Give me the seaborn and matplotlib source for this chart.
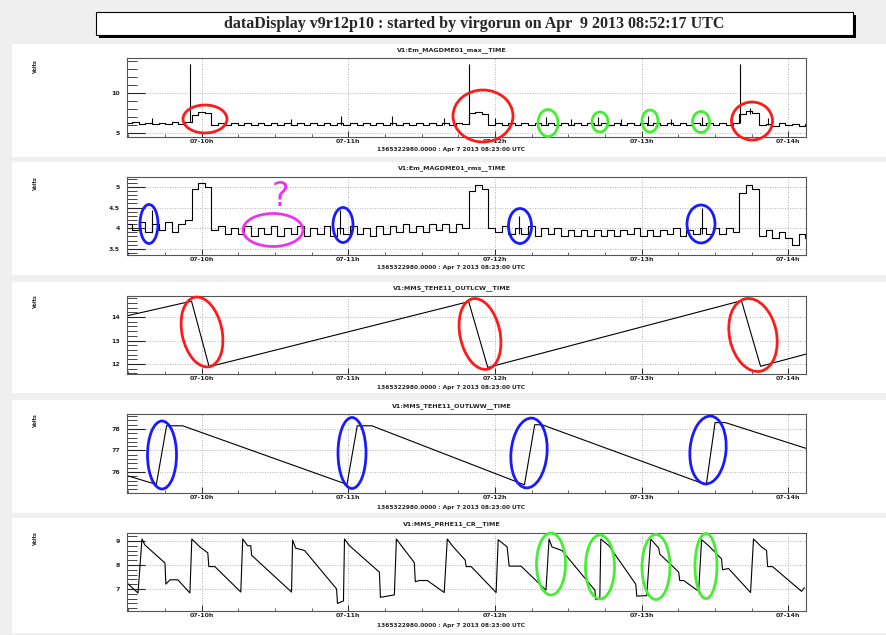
import numpy as np
import pandas as pd
import matplotlib
matplotlib.use("Agg")
import matplotlib.pyplot as plt
import seaborn as sns
from matplotlib.patches import Ellipse, Rectangle
from matplotlib.ticker import MultipleLocator, FixedLocator

# ---------------- data ----------------
main_title = "dataDisplay v9r12p10 : started by virgorun on Apr  9 2013 08:52:17 UTC"
panel_titles = ["V1:Em_MAGDME01_max__TIME", "V1:Em_MAGDME01_rms__TIME",
                "V1:MMS_TEHE11_OUTLCW__TIME", "V1:MMS_TEHE11_OUTLWW__TIME",
                "V1:MMS_PRHE11_CR__TIME"]
time_label = "1365322980.0000 : Apr 7 2013 08:23:00 UTC"
unit_label = "Volts"
hour_ticks = [10, 11, 12, 13, 14]
hour_labels = ["07-10h", "07-11h", "07-12h", "07-13h", "07-14h"]

# panel 1 & 2 : stepped series sampled every 0.045 h from 9.48 h
step_t0 = 9.48
step_dt = 0.045
p1_v = [6.20, 6.35, 6.15, 6.30, 6.10, 6.30, 6.15, 6.35, 6.10, 6.40,
        7.30, 7.65, 7.45, 6.05, 6.25, 6.00, 6.20, 5.95, 6.25, 6.05,
        6.20, 5.95, 6.30, 6.00, 6.20, 6.05, 6.25, 5.95, 6.20, 6.00,
        6.30, 6.05, 6.20, 5.95, 6.25, 6.00, 6.20, 6.05, 6.30, 5.95,
        6.20, 6.00, 6.25, 6.05, 6.20, 5.95, 6.30, 6.00, 6.20, 6.05,
        6.25, 6.10, 7.45, 7.60, 7.40, 6.00, 6.25, 5.95, 6.20, 6.05,
        6.25, 5.95, 6.20, 6.00, 6.30, 6.05, 6.20, 5.95, 6.25, 6.00,
        6.20, 6.05, 6.30, 5.95, 6.20, 6.00, 6.25, 6.05, 6.20, 5.95,
        6.30, 6.00, 6.20, 6.05, 6.25, 5.95, 6.20, 6.00, 6.30, 6.05,
        6.20, 5.95, 6.30, 7.35, 7.70, 7.50, 5.95, 6.15, 5.90, 6.20,
        5.95, 6.15, 5.90, 6.10, 6.15]
p1_spike_t = [9.92, 11.82, 13.67, 9.66, 10.61, 10.95, 11.30, 11.65, 12.00, 12.35,
              12.52, 12.70, 12.86, 13.04, 13.20, 13.41, 13.74, 13.86]
p1_spike_base = [6.4, 6.1, 6.2, 6.1, 6.0, 6.0, 6.0, 6.0, 6.0, 6.0,
                 6.0, 6.0, 6.0, 6.0, 6.0, 6.0, 7.4, 6.0]
p1_spike_top = [13.6, 13.6, 13.6, 6.9, 6.8, 7.1, 7.15, 6.9, 6.9, 7.0,
                6.8, 7.0, 6.7, 7.1, 6.8, 7.0, 8.1, 6.9]

p2_v = [4.10, 3.95, 4.15, 3.90, 4.10, 3.95, 4.15, 3.90, 4.10, 4.20,
        4.95, 5.10, 5.00, 3.95, 4.05, 3.85, 4.00, 3.85, 4.05, 3.80,
        4.00, 3.85, 4.05, 3.80, 4.00, 3.85, 4.05, 3.80, 4.00, 3.85,
        4.05, 3.80, 4.00, 3.85, 4.05, 3.85, 4.00, 3.80, 4.05, 3.85,
        4.05, 3.90, 4.10, 3.90, 4.05, 3.90, 4.10, 3.95, 4.10, 3.90,
        4.10, 4.00, 4.90, 5.05, 4.95, 4.00, 3.90, 4.05, 3.85, 4.00,
        3.85, 4.05, 3.80, 4.00, 3.85, 4.00, 3.80, 3.95, 3.80, 3.95,
        3.80, 3.95, 3.80, 3.95, 3.80, 3.95, 3.85, 4.00, 3.80, 3.95,
        3.80, 3.95, 3.85, 4.00, 3.80, 3.95, 3.85, 4.00, 3.85, 4.00,
        3.85, 4.00, 3.90, 4.85, 5.05, 4.95, 3.80, 3.95, 3.75, 3.90,
        3.75, 3.60, 3.85, 3.75, 3.90]
p2_spike_t = [9.66, 10.94, 12.16, 13.41]
p2_spike_base = [3.90, 3.85, 3.85, 3.85]
p2_spike_top = [4.44, 4.45, 4.30, 4.50]

p3_t = [9.48, 9.93, 10.05, 11.82, 11.95, 13.68, 13.81, 14.12]
p3_v = [14.04, 14.68, 11.88, 14.66, 11.85, 14.70, 11.90, 12.42]

p4_t = [9.48, 9.69, 9.76, 9.87, 10.99, 11.06, 11.16, 12.20, 12.27, 12.32,
        13.44, 13.50, 13.57, 14.12]
p4_v = [75.85, 75.42, 78.15, 78.15, 75.42, 78.15, 78.15, 75.40, 78.20, 78.20,
        75.40, 78.30, 78.30, 77.10]

p5_t = [9.490, 9.565, 9.592, 9.612, 9.749, 9.755, 9.783, 9.837, 9.919, 9.932,
        9.987, 10.041, 10.048, 10.089, 10.266, 10.279, 10.313, 10.334, 10.340, 10.612,
        10.619, 10.640, 10.701, 10.919, 10.925, 10.966, 10.973, 11.007, 11.211, 11.218,
        11.313, 11.327, 11.361, 11.449, 11.456, 11.483, 11.538, 11.653, 11.674, 11.708,
        11.796, 11.803, 11.837, 12.007, 12.021, 12.082, 12.096, 12.177, 12.347, 12.368,
        12.388, 12.456, 12.680, 12.687, 12.714, 12.721, 12.776, 12.959, 12.966, 13.034,
        13.061, 13.116, 13.123, 13.252, 13.259, 13.286, 13.388, 13.408, 13.456, 13.544,
        13.551, 13.592, 13.742, 13.762, 13.817, 13.851, 13.858, 13.892, 14.089, 14.109]
p5_v = [7.25, 6.83, 9.08, 8.83, 8.08, 7.20, 7.38, 7.38, 6.83, 9.08,
        8.75, 8.50, 7.93, 7.93, 6.87, 9.08, 8.80, 8.80, 8.40, 6.87,
        9.04, 8.70, 8.60, 7.00, 6.40, 6.50, 9.08, 8.80, 7.70, 6.65,
        6.75, 9.08, 8.80, 8.10, 7.30, 7.35, 7.35, 6.85, 9.08, 8.80,
        8.20, 7.93, 7.93, 6.85, 9.05, 8.75, 7.95, 7.95, 6.95, 9.08,
        8.75, 8.60, 6.95, 6.55, 6.60, 9.08, 8.80, 7.20, 6.70, 6.72,
        9.08, 8.70, 8.45, 7.70, 7.35, 7.35, 6.90, 9.05, 8.80, 8.25,
        7.80, 7.85, 6.85, 9.08, 8.75, 8.60, 7.93, 7.93, 6.90, 7.05]

# y axis settings per panel
y_limits = [(4.5, 14.4), (3.35, 5.24), (11.57, 14.9), (75.02, 78.7), (6.08, 9.33)]
y_major = [[5, 10], [3.5, 4, 4.5, 5], [12, 13, 14], [76, 77, 78], [7, 8, 9]]
y_major_labels = [["5", "10"], ["3.5", "4", "4.5", "5"], ["12", "13", "14"],
                  ["76", "77", "78"], ["7", "8", "9"]]
y_minor_step = [1.0, 0.1, 0.2, 0.2, 0.2]
x_limits = (9.49, 14.12)

# ---------------- layout (pixels) ----------------
W, H = 887, 635
panel_white = [(44, 157), (162, 275), (282, 393), (400, 513), (518, 633)]
axes_px = [(58, 137), (177, 255), (296, 374), (414, 493), (533, 611)]
AX_L, AX_R = 127, 806

sns.set_theme(style="white")
plt.rcParams['font.family'] = ['DejaVu Sans']

fig = plt.figure(figsize=(W / 100, H / 100), dpi=100)
fig.patch.set_facecolor('#efefef')

bg = fig.add_axes([0, 0, 1, 1], zorder=-10)
bg.set_xlim(0, W)
bg.set_ylim(H, 0)
bg.axis('off')
for (t, b) in panel_white:
    bg.add_patch(Rectangle((12, t), W - 12, b - t, facecolor='white', edgecolor='none'))
# title box with shadow
bg.add_patch(Rectangle((99, 15), 757, 23, facecolor='black', edgecolor='none'))
bg.add_patch(Rectangle((96, 12), 757, 23, facecolor='white', edgecolor='black', lw=0.8))
bg.text(474, 24, main_title, ha='center', va='center', fontsize=11.5,
        fontweight='bold', family=['Liberation Serif', 'DejaVu Serif'])

axes = []
for k, (t, b) in enumerate(axes_px):
    ax = fig.add_axes([AX_L / W, 1 - b / H, (AX_R - AX_L) / W, (b - t) / H])
    axes.append(ax)
    # texts
    bg.text(452, [50, 168, 288, 406, 524][k], panel_titles[k], ha='center', va='center',
            fontsize=4.6, fontweight='bold')
    bg.text(451, [149, 268, 388, 507, 626][k], time_label, ha='center', va='center',
            fontsize=4.2, fontweight='bold')
    bg.text(35, [66, 183, 301, 420, 538][k], unit_label, ha='center', va='center',
            rotation=90, fontsize=3.5, fontweight='bold')

line_kw = dict(color='black', linewidth=0.8, estimator=None, sort=False, legend=False)

# panel 1
t12 = step_t0 + step_dt * np.arange(len(p1_v))
sns.lineplot(x=t12, y=p1_v, ax=axes[0], drawstyle='steps-post', **line_kw)
axes[0].vlines(p1_spike_t, p1_spike_base, p1_spike_top, color='black', lw=0.8)
# panel 2
t22 = step_t0 + step_dt * np.arange(len(p2_v))
sns.lineplot(x=t22, y=p2_v, ax=axes[1], drawstyle='steps-post', **line_kw)
axes[1].vlines(p2_spike_t, p2_spike_base, p2_spike_top, color='black', lw=0.8)
# panels 3-5
sns.lineplot(x=p3_t, y=p3_v, ax=axes[2], **line_kw)
sns.lineplot(x=p4_t, y=p4_v, ax=axes[3], **line_kw)
sns.lineplot(x=p5_t, y=p5_v, ax=axes[4], **line_kw)

for k, ax in enumerate(axes):
    ax.set_xlim(*x_limits)
    ax.set_ylim(*y_limits[k])
    ax.set_xlabel('')
    ax.set_ylabel('')
    ax.set_facecolor('white')
    ax.xaxis.set_major_locator(FixedLocator(hour_ticks))
    ax.set_xticklabels(hour_labels)
    ax.xaxis.set_minor_locator(MultipleLocator(0.25))
    ax.yaxis.set_major_locator(FixedLocator(y_major[k]))
    ax.set_yticklabels(y_major_labels[k])
    ax.yaxis.set_minor_locator(MultipleLocator(y_minor_step[k]))
    ax.tick_params(axis='y', which='major', direction='in', length=13, width=0.8,
                   labelsize=4.5, pad=5, left=True, right=False)
    ax.tick_params(axis='y', which='minor', direction='in', length=7, width=0.6,
                   left=True, right=False)
    ax.tick_params(axis='x', which='major', direction='in', length=4, width=0.7,
                   labelsize=4.5, pad=1.5, bottom=True, top=False)
    ax.tick_params(axis='x', which='minor', direction='in', length=2, width=0.5,
                   bottom=True, top=False)
    for lbl in ax.get_xticklabels() + ax.get_yticklabels():
        lbl.set_fontweight('bold')
    ax.grid(True, which='major', linestyle=(0, (1, 2)), color='#999999', linewidth=0.6)
    for s in ax.spines.values():
        s.set_color('#555555')
        s.set_linewidth(0.8)
        s.set_visible(True)

# ---------------- hand-drawn marks overlay ----------------
ov = fig.add_axes([0, 0, 1, 1], zorder=20)
ov.set_xlim(0, W)
ov.set_ylim(H, 0)
ov.axis('off')
RED, BLUE, GREEN, MAG = '#ff1a1a', '#1a1aff', '#44ee33', '#ee33ee'
marks = [
    (205, 119, 44, 28, 0, RED), (483, 116, 60, 52, 0, RED), (752, 121, 41, 38, 0, RED),
    (548, 123, 20, 27, 0, GREEN), (600, 122, 16, 20, 0, GREEN),
    (650, 121, 16, 22, 0, GREEN), (701, 122, 17, 21, 0, GREEN),
    (149, 224, 18, 39, 0, BLUE), (343, 225, 20, 35, 0, BLUE),
    (520, 226, 23, 35, 0, BLUE), (701, 224, 28, 38, 0, BLUE),
    (273, 230, 60, 33, 0, MAG),
    (202, 332, 40, 71, -12, RED), (480, 334, 40, 72, -12, RED), (753, 335, 47, 74, -12, RED),
    (162, 455, 29, 68, 0, BLUE), (352, 453, 28, 71, 0, BLUE),
    (529, 453, 36, 70, 5, BLUE), (708, 450, 36, 68, 5, BLUE),
    (551, 564, 29, 62, 0, GREEN), (600, 567, 29, 64, 0, GREEN),
    (656, 567, 28, 65, 0, GREEN), (706, 566, 22, 65, 0, GREEN),
]
for cx, cy, w, h, ang, col in marks:
    ov.add_patch(Ellipse((cx, cy), w, h, angle=ang, fill=False, edgecolor=col, lw=2.0))
ov.text(281, 197, "?", ha='center', va='center', fontsize=24, color=MAG)

fig.savefig("out.png", dpi=100, facecolor=fig.get_facecolor())
